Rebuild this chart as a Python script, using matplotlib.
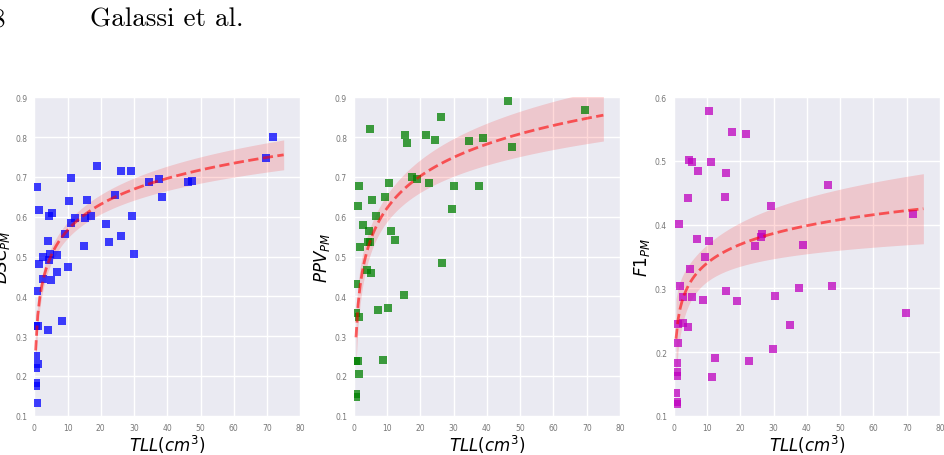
import numpy as np
import matplotlib
matplotlib.use("Agg")
import matplotlib.pyplot as plt

# ---------------- data ----------------
x_dsc = [0.9, 1.3, 4.5, 5.3, 11.0, 10.4, 11.0, 12.2, 18.8, 15.7, 15.2, 17.1, 15.0, 9.1, 4.0, 2.7,
         1.5, 4.7, 6.7, 4.5, 6.9, 10.1, 24.2, 21.6, 22.4, 26.1, 29.0, 29.4, 26.2, 30.0, 34.5, 37.5,
         38.5, 46.1, 47.4, 69.6, 71.7, 2.7, 4.9, 0.8, 1.0, 0.6, 4.2, 8.3, 0.4, 1.0, 0.5, 0.6, 0.6, 0.7]
y_dsc = [0.675, 0.617, 0.603, 0.609, 0.697, 0.639, 0.583, 0.596, 0.727, 0.643, 0.596, 0.602, 0.527,
         0.557, 0.538, 0.499, 0.480, 0.506, 0.504, 0.491, 0.462, 0.474, 0.655, 0.581, 0.536, 0.716,
         0.716, 0.602, 0.552, 0.506, 0.686, 0.695, 0.650, 0.686, 0.690, 0.748, 0.800, 0.443, 0.440,
         0.413, 0.325, 0.325, 0.315, 0.337, 0.250, 0.229, 0.221, 0.182, 0.175, 0.133]

x_ppv = [1.1, 1.5, 4.9, 1.8, 2.8, 4.6, 4.3, 4.8, 5.5, 6.6, 9.3, 10.5, 11.1, 12.2, 15.3, 15.8, 17.4,
         18.9, 21.7, 24.4, 22.6, 26.2, 26.5, 29.6, 30.2, 34.7, 38.7, 37.6, 46.2, 47.4, 69.6, 3.8, 5.1,
         0.6, 0.6, 1.4, 15.1, 7.1, 10.2, 0.6, 1.3, 8.6, 1.4, 0.6, 0.6]
y_ppv = [0.628, 0.678, 0.820, 0.525, 0.580, 0.565, 0.536, 0.536, 0.641, 0.603, 0.650, 0.685, 0.565,
         0.541, 0.806, 0.785, 0.699, 0.694, 0.806, 0.793, 0.684, 0.851, 0.483, 0.620, 0.677, 0.789,
         0.798, 0.676, 0.891, 0.776, 0.868, 0.466, 0.458, 0.431, 0.358, 0.347, 0.404, 0.366, 0.371,
         0.238, 0.238, 0.241, 0.205, 0.155, 0.146]

x_f1 = [10.6, 17.5, 21.7, 4.6, 5.3, 11.2, 7.2, 15.5, 4.2, 15.2, 1.4, 6.8, 10.4, 9.4, 4.9, 29.2, 46.2,
        24.5, 26.5, 26.3, 38.8, 71.9, 1.8, 2.8, 5.3, 8.7, 15.7, 19.0, 30.3, 37.5, 47.5, 69.7, 34.8,
        1.3, 2.8, 4.3, 1.1, 29.7, 12.3, 22.6, 11.4, 0.9, 0.9, 0.9, 0.6, 0.8, 0.8]
y_f1 = [0.578, 0.545, 0.542, 0.501, 0.498, 0.499, 0.484, 0.481, 0.442, 0.443, 0.401, 0.378, 0.374,
        0.349, 0.331, 0.430, 0.462, 0.366, 0.386, 0.380, 0.368, 0.417, 0.304, 0.286, 0.287, 0.281,
        0.296, 0.280, 0.288, 0.300, 0.304, 0.261, 0.242, 0.244, 0.245, 0.240, 0.214, 0.205, 0.191,
        0.186, 0.160, 0.182, 0.169, 0.162, 0.135, 0.122, 0.119]

# logarithmic fit y = a + b*ln(x)
fit_intercept = [0.350, 0.356, 0.2424]
fit_slope = [0.0939, 0.1156, 0.0423]
fit_x_end = 75.0
# half-width of the shaded confidence band at the right end of each curve
band_halfwidth_end = [0.0375, 0.065, 0.055]

ylabels = [r"$DSC_{PM}$", r"$PPV_{PM}$", r"$F1_{PM}$"]
xlabel = r"$TLL(cm^3)$"
xticks = [0, 10, 20, 30, 40, 50, 60, 70, 80]
yticks_a = [0.1, 0.2, 0.3, 0.4, 0.5, 0.6, 0.7, 0.8, 0.9]
yticks_b = [0.1, 0.2, 0.3, 0.4, 0.5, 0.6]
colors = ["#0000ff", "#008000", "#bf00bf"]

# ---------------- figure ----------------
fig = plt.figure(figsize=(9.45, 4.56), dpi=100)
fig.patch.set_facecolor("white")

fig.text(5 / 945, 1 - 20 / 456, "8", fontfamily="cmr10", fontsize=19.5, ha="right", va="center")
fig.text(167 / 945, 1 - 20 / 456, "Galassi et al.", fontfamily="cmr10", fontsize=19.5,
         ha="center", va="center")

lefts = [34.3, 354.0, 674.0]
series = [(x_dsc, y_dsc), (x_ppv, y_ppv), (x_f1, y_f1)]
for i, (xs, ys) in enumerate(series):
    ax = fig.add_axes([lefts[i] / 945, (456 - 416.7) / 456, 266 / 945, 318.4 / 456])
    ax.set_facecolor("#EAEAF2")
    for s in ax.spines.values():
        s.set_visible(False)
    ax.grid(True, color="white", linewidth=1.0)
    ax.set_axisbelow(True)

    x = np.asarray(xs, float)
    y = np.asarray(ys, float)
    lx = np.log(x)
    grid = np.linspace(x.min(), fit_x_end, 120)
    lg = np.log(grid)
    pred = fit_intercept[i] + fit_slope[i] * lg
    # band shape follows the regression standard error of the data
    shape = np.sqrt(1.0 / len(x) + (lg - lx.mean()) ** 2 / np.sum((lx - lx.mean()) ** 2))
    ci = band_halfwidth_end[i] * shape / shape[-1]

    ax.scatter(x, y, marker="s", s=26, color=colors[i], alpha=0.75, linewidths=0, zorder=3)
    ax.fill_between(grid, pred - ci, pred + ci, color="red", alpha=0.15, linewidth=0, zorder=2)
    ax.plot(grid, pred, color="red", alpha=0.6, linestyle="--", linewidth=2, zorder=4)

    ax.set_xlim(0, 80)
    ax.set_xticks(xticks)
    if i < 2:
        ax.set_ylim(0.1, 0.9)
        ax.set_yticks(yticks_a)
    else:
        ax.set_ylim(0.1, 0.6)
        ax.set_yticks(yticks_b)
    ax.tick_params(length=0, labelsize=5.5, labelcolor="#777777", pad=5)
    ax.set_xlabel(xlabel, fontsize=12, labelpad=1)
    ax.set_ylabel(ylabels[i], fontsize=12, labelpad=2)

fig.savefig("out.png", dpi=100)
